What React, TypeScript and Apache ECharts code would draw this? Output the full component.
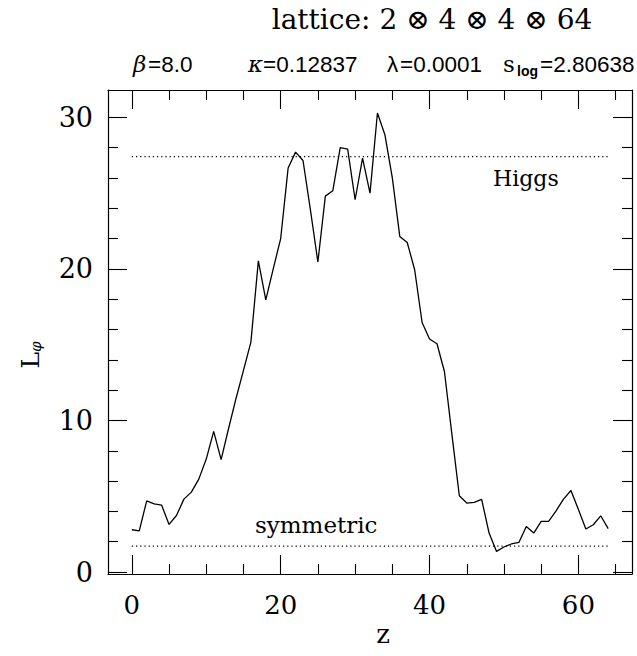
import React, { useEffect, useRef } from "react";
import * as echarts from "echarts";

const zValues = [
  0, 1, 2, 3, 4, 5, 6, 7, 8, 9, 10, 11, 12, 13, 14, 15, 16, 17, 18, 19, 20, 21,
  22, 23, 24, 25, 26, 27, 28, 29, 30, 31, 32, 33, 34, 35, 36, 37, 38, 39, 40, 41,
  42, 43, 44, 45, 46, 47, 48, 49, 50, 51, 52, 53, 54, 55, 56, 57, 58, 59, 60, 61,
  62, 63, 64,
];
const lPhi = [
  2.79, 2.72, 4.7, 4.5, 4.42, 3.14, 3.73, 4.81, 5.27, 6.13,
  7.45, 9.28, 7.41, 9.47, 11.45, 13.3, 15.17, 20.53, 17.96, 20.0,
  22.0, 26.65, 27.7, 27.15, 23.88, 20.45, 24.8, 25.15, 28.0, 27.9,
  24.56, 27.3, 25.0, 30.28, 28.85, 26.0, 22.14, 21.74, 19.94, 16.46,
  15.37, 15.06, 13.23, 9.1, 5.03, 4.55, 4.6, 4.79, 2.57, 1.36,
  1.65, 1.85, 1.95, 3.0, 2.57, 3.34, 3.34, 4.04, 4.81, 5.38,
  4.13, 2.84, 3.12, 3.71, 2.86,
];
const higgsLevel = 27.4;
const symmetricLevel = 1.71;
const levelZ = [0, 64];
const xMajor = [0, 20, 40, 60];
const xMinor = [5, 10, 15, 25, 30, 35, 45, 50, 55, 65];
const yMajor = [0, 10, 20, 30];
const yMinor = [2, 4, 6, 8, 12, 14, 16, 18, 22, 24, 26, 28];

const SERIF = "DejaVu Serif";
const SANS = "Liberation Sans";

export default function App() {
  const ref = useRef<HTMLDivElement>(null);
  useEffect(() => {
    const chart = echarts.init(ref.current!, null, { renderer: "svg" });
    const xMin = -3.2;
    const xMax = 67.2;
    const yMin = -0.13;
    const yMax = 31.8;
    const lineStyle = { color: "#000", width: 1.2 };
    const mkX = (pos: string, vals: number[], len: number, label: boolean, line: boolean) => ({
      type: "value",
      position: pos,
      min: xMin,
      max: xMax,
      axisLine: { show: line, onZero: false, lineStyle },
      axisTick: { show: true, inside: true, length: len, customValues: vals, lineStyle: { color: "#000", width: 1.1 } },
      axisLabel: {
        show: label,
        customValues: vals,
        color: "#000",
        fontFamily: SERIF,
        fontSize: 26,
        margin: 18,
      },
      splitLine: { show: false },
    });
    const mkY = (pos: string, vals: number[], len: number, label: boolean, line: boolean) => ({
      type: "value",
      position: pos,
      min: yMin,
      max: yMax,
      axisLine: { show: line, onZero: false, lineStyle },
      axisTick: { show: true, inside: true, length: len, customValues: vals, lineStyle: { color: "#000", width: 1.1 } },
      axisLabel: {
        show: label,
        customValues: vals,
        color: "#000",
        fontFamily: SERIF,
        fontSize: 27,
        margin: 15,
      },
      splitLine: { show: false },
    });
    const data = zValues.map((z, i) => [z, lPhi[i]]);
    const txt = (
      x: number,
      y: number,
      text: string,
      family: string,
      size: number,
      extra: any = {},
      align = "left"
    ) => ({
      type: "text",
      x,
      y,
      style: {
        text,
        fontFamily: family,
        fontSize: size,
        fill: "#000",
        textAlign: align,
        textVerticalAlign: "middle",
        ...extra,
      },
    });
    chart.setOption({
      animation: false,
      backgroundColor: "#fff",
      grid: { left: 108, top: 90, width: 524, height: 484, containLabel: false },
      xAxis: [
        mkX("bottom", xMajor, 19, true, true),
        mkX("bottom", xMinor, 10, false, false),
        mkX("top", xMajor, 19, false, true),
        mkX("top", xMinor, 10, false, false),
      ],
      yAxis: [
        mkY("left", yMajor, 19, true, true),
        mkY("left", yMinor, 10, false, false),
        mkY("right", yMajor, 19, false, true),
        mkY("right", yMinor, 10, false, false),
      ],
      series: [
        {
          type: "line",
          data,
          xAxisIndex: 0,
          yAxisIndex: 0,
          showSymbol: false,
          lineStyle: { color: "#000", width: 1.3 },
        },
        {
          type: "line",
          data: levelZ.map((z) => [z, higgsLevel]),
          xAxisIndex: 0,
          yAxisIndex: 0,
          showSymbol: false,
          lineStyle: { color: "#000", width: 1.2, type: [1.2, 3] },
        },
        {
          type: "line",
          data: levelZ.map((z) => [z, symmetricLevel]),
          xAxisIndex: 0,
          yAxisIndex: 0,
          showSymbol: false,
          lineStyle: { color: "#000", width: 1.2, type: [1.2, 3] },
        },
      ],
      graphic: [
        txt(432, 19, "lattice: 2 \u2297 4 \u2297 4 \u2297 64", SERIF, 28, {}, "center"),
        txt(133, 64, "\u03b2", SERIF, 23, { fontStyle: "italic" }),
        txt(148, 64, "=8.0", SANS, 22.5),
        txt(248, 64, "\u03ba", SERIF, 23, { fontStyle: "italic" }),
        txt(263, 64, "=0.12837", SANS, 22.5),
        txt(387, 64, "\u03bb", SANS, 22.5),
        txt(400, 64, "=0.0001", SANS, 22.5),
        txt(503, 64, "s", SERIF, 23),
        txt(517, 71, "log", SANS, 14, { fontWeight: "bold" }),
        txt(540, 64, "=2.80638", SANS, 22.5),
        txt(493, 178, "Higgs", SERIF, 22),
        txt(255, 525, "symmetric", SERIF, 23),
        txt(383, 634, "z", SERIF, 26, {}, "center"),
        {
          type: "group",
          x: 30,
          y: 355,
          rotation: Math.PI / 2,
          children: [
            {
              type: "text",
              x: 0,
              y: 0,
              style: {
                text: "{l|L}{s|\u03c6}",
                fill: "#000",
                textAlign: "center",
                textVerticalAlign: "middle",
                rich: {
                  l: { fontFamily: SERIF, fontSize: 25, fill: "#000" },
                  s: { fontFamily: SERIF, fontStyle: "italic", fontSize: 15, fill: "#000", padding: [12, 0, 0, 0] },
                },
              },
            },
          ],
        },
      ],
    });
    return () => chart.dispose();
  }, []);
  return (
    <div
      ref={ref}
      style={{ position: "absolute", left: 0, top: 0, width: 637, height: 656 }}
    />
  );
}
